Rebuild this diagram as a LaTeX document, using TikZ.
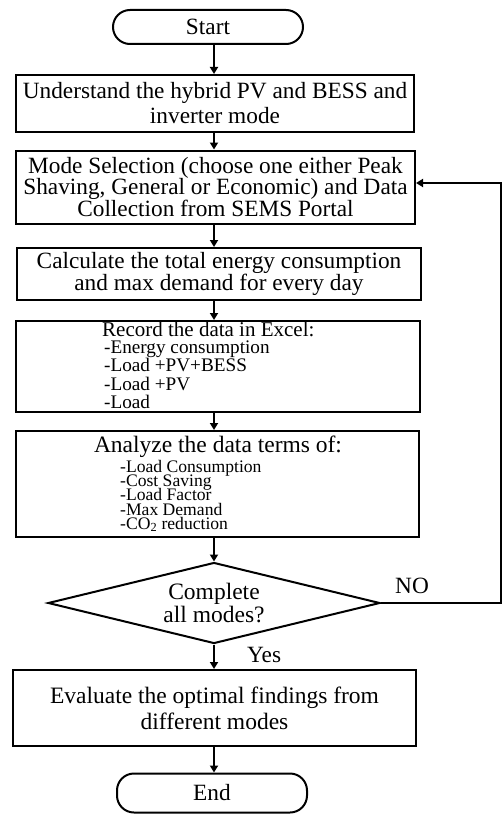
\documentclass[tikz,border=0pt]{standalone}
\usepackage{fontspec}
\setmainfont{Liberation Serif}
\usetikzlibrary{shapes.geometric,arrows.meta}
\begin{document}
\begin{tikzpicture}[x=1bp,y=-1bp,
  box/.style={draw, line width=2bp, inner sep=0pt, align=center},
  term/.style={draw, line width=2bp, rounded corners=17bp, minimum width=190bp, inner sep=0pt},
  arr/.style={line width=2.8bp, -{Triangle[width=8bp,length=7bp]}},
  fbarr/.style={line width=2bp, -{Triangle[width=8bp,length=7bp]}},
  big/.style={font=\fontsize{23.3bp}{24bp}\selectfont},
  lbl/.style={inner sep=0pt, anchor=base west}]
\useasboundingbox (0,0) rectangle (504,814);
\coordinate (ax) at (214,0);
% terminals and boxes
\node[term, big, minimum height=34bp] (start) at (208,27) {Start};
\node[box, minimum width=398bp, minimum height=57bp, font=\fontsize{23.3bp}{25bp}\selectfont] (b1) at (215,103.5)
  {Understand the hybrid PV and BESS and\\inverter mode};
\node[box, minimum width=399bp, minimum height=73bp, font=\fontsize{23.3bp}{21.5bp}\selectfont] (b2) at (215.5,187)
  {Mode Selection (choose one either Peak\\Shaving, General or Economic) and Data\\Collection from SEMS Portal};
\node[box, minimum width=404bp, minimum height=52bp, font=\fontsize{23.3bp}{21bp}\selectfont] (b3) at (219,274)
  {Calculate the total energy consumption\\and max demand for every day};
\node[box, minimum width=404bp, minimum height=91bp] (b4) at (218,366.5) {};
\node[lbl, font=\fontsize{21bp}{21bp}\selectfont] (t4h) at (102,336) {Record the data in Excel:};
\foreach \i/\yy/\tx in {a/353/{-Energy consumption}, b/371.5/{-Load +PV+BESS}, c/390/{-Load +PV}, d/408.5/{-Load}}
  \node[lbl, font=\fontsize{19.2bp}{19bp}\selectfont] (t4\i) at (104,\yy) {\tx};
\node[box, minimum width=403bp, minimum height=106bp] (b5) at (217.5,484) {};
\node[inner sep=0pt, anchor=base, font=\fontsize{23.5bp}{24bp}\selectfont] (t5h) at (218,452) {Analyze the data terms of:};
\foreach \i/\yy/\tx in {a/472/{-Load Consumption}, b/486.3/{-Cost Saving}, c/500.6/{-Load Factor}, d/515/{-Max Demand}, e/529/{-CO\textsubscript{2} reduction}}
  \node[lbl, font=\fontsize{17.6bp}{17bp}\selectfont] (t5\i) at (120,\yy) {\tx};
\node[draw, diamond, shape aspect=4.1, line width=2bp, minimum width=332bp, minimum height=81bp, inner sep=0pt, align=center,
  font=\fontsize{23.5bp}{20bp}\selectfont] (dia) at (214,603) {Complete\\all modes?};
\node[box, minimum width=403bp, minimum height=76bp, font=\fontsize{23.5bp}{26bp}\selectfont] (b6) at (214.5,708)
  {Evaluate the optimal findings from\\different modes};
\node[term, big, minimum height=39bp] (end) at (212,793) {End};
% labels
\node[lbl, big] (no) at (395,593) {NO};
\node[lbl, big] (yes) at (247,662) {Yes};
% connectors
\draw[arr] (start.south -| ax) -- (b1.north -| ax);
\draw[arr] (b1.south -| ax) -- (b2.north -| ax);
\draw[arr] (b2.south -| ax) -- (b3.north -| ax);
\draw[arr] (b3.south -| ax) -- (b4.north -| ax);
\draw[arr] (b4.south -| ax) -- (b5.north -| ax);
\draw[arr] (b5.south -| ax) -- (dia.north);
\draw[arr] (dia.south) -- (b6.north -| ax);
\draw[arr] (b6.south -| ax) -- (end.north -| ax);
\coordinate (fb1) at (501,603);
\coordinate (fb2) at (501,183);
\draw[fbarr] (dia.east) -- (fb1) -- (fb2) -- (b2.east |- fb2);
\end{tikzpicture}
\end{document}
